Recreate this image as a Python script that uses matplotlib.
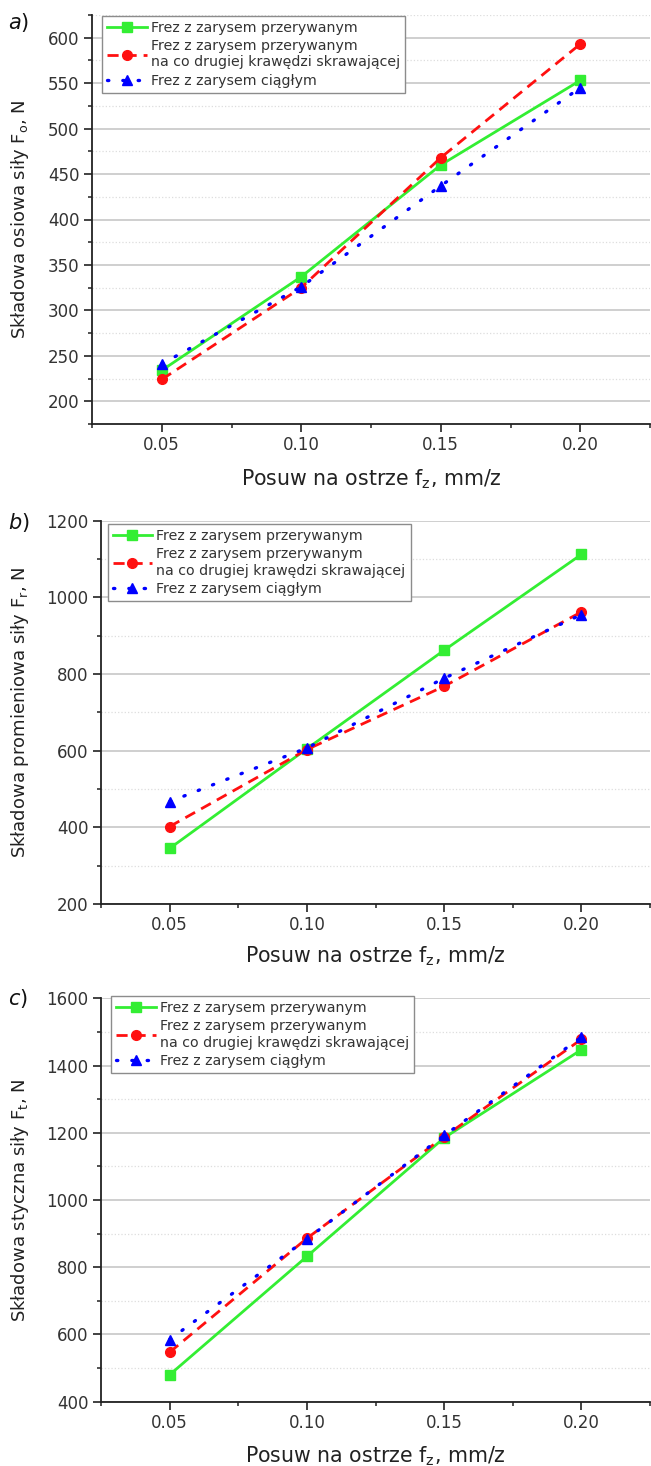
import matplotlib
matplotlib.use("Agg")
import matplotlib.pyplot as plt
from matplotlib.ticker import MultipleLocator, FormatStrFormatter

plt.rcParams["font.family"] = ["DejaVu Sans"]
plt.rcParams["mathtext.default"] = "regular"

# feed per tooth f_z, mm/z
feed = [0.05, 0.10, 0.15, 0.20]

# axial force component F_o, N
axial_interrupted = [234, 337, 460, 553]
axial_every_second = [224, 325, 468, 593]
axial_continuous = [241, 326, 437, 545]

# radial force component F_r, N
radial_interrupted = [345, 605, 862, 1112]
radial_every_second = [402, 603, 768, 962]
radial_continuous = [467, 607, 789, 955]

# tangential force component F_t, N
tangential_interrupted = [480, 832, 1185, 1447]
tangential_every_second = [547, 886, 1188, 1478]
tangential_continuous = [585, 884, 1192, 1484]

series_labels = [
	"Frez z zarysem przerywanym",
	"Frez z zarysem przerywanym\nna co drugiej krawędzi skrawającej",
	"Frez z zarysem ciągłym",
]
panel_letters = ["a", "b", "c"]
y_labels = [
	"Składowa osiowa siły F$_o$, N",
	"Składowa promieniowa siły F$_r$, N",
	"Składowa styczna siły F$_t$, N",
]
x_label = "Posuw na ostrze f$_z$, mm/z"

W, H = 651, 1466


def rect(left, top, bottom, right=650):
	return [left / W, 1 - bottom / H, (right - left) / W, (bottom - top) / H]


panels = [
	# data, axes box (px), ylim, major, minor, legend anchor, label y px
	([axial_interrupted, axial_every_second, axial_continuous],
	 rect(92, 15, 424), (175, 625), 50, 25, (0.018, 0.9976), 23),
	([radial_interrupted, radial_every_second, radial_continuous],
	 rect(101, 520.7, 904), (200, 1200), 200, 100, (0.012, 0.991), 522),
	([tangential_interrupted, tangential_every_second, tangential_continuous],
	 rect(101, 998.3, 1401.7), (400, 1600), 200, 100, (0.018, 1.005), 998),
]

styles = [
	dict(color="#33ee33", ls="-", lw=2, marker="s", ms=6.5),
	dict(color="#ff1010", ls=(0, (4, 2.5)), lw=2, marker="o", ms=7),
	dict(color="#0000ff", ls=(0, (0.4, 4.2)), lw=2.4, marker="^", ms=7.5, dash_capstyle="round"),
]

fig = plt.figure(figsize=(W / 100, H / 100), dpi=100)

for i, (series, box, ylim, major, minor, leg_anchor, letter_y) in enumerate(panels):
	ax = fig.add_axes(box)
	for values, label, st in zip(series, series_labels, styles):
		ax.plot(feed, values, label=label, **st)

	ax.set_xlim(0.025, 0.225)
	ax.set_ylim(*ylim)
	ax.xaxis.set_major_locator(MultipleLocator(0.05))
	ax.xaxis.set_minor_locator(MultipleLocator(0.025))
	ax.xaxis.set_major_formatter(FormatStrFormatter("%.2f"))
	ax.yaxis.set_major_locator(MultipleLocator(major))
	ax.yaxis.set_minor_locator(MultipleLocator(minor))

	ax.spines["top"].set_visible(False)
	ax.spines["right"].set_visible(False)
	for side in ["left", "bottom"]:
		ax.spines[side].set_linewidth(1.3)
		ax.spines[side].set_color("#222222")
	ax.tick_params(which="major", direction="out", length=6, width=1.2,
		labelsize=12, pad=3, colors="#222222", labelcolor="#333333")
	ax.tick_params(which="minor", direction="out", length=3, width=1.1, colors="#222222")

	ax.grid(which="major", axis="y", color="#cccccc", lw=1.3)
	ax.grid(which="minor", axis="y", color="#dddddd", lw=0.9, ls=":")
	ax.set_axisbelow(True)

	ax.set_ylabel(y_labels[i], fontsize=13, color="#222222")
	ax.yaxis.set_label_coords((31 - box[0] * W) / (box[2] * W), 0.5)
	ax.set_xlabel(x_label, fontsize=14.8, color="#222222")
	ax.xaxis.label.set_verticalalignment("center")
	ax.xaxis.set_label_coords(0.5, -0.135)

	leg = ax.legend(loc="upper left", bbox_to_anchor=leg_anchor, borderaxespad=0,
		fontsize=10.2, fancybox=False, framealpha=1, edgecolor="#8c8c8c",
		handlelength=2.8, handletextpad=0.3, borderpad=0.35, labelspacing=0.3,
		numpoints=1)
	leg.get_frame().set_linewidth(1.0)
	for t in leg.get_texts():
		t.set_color("#333333")

	fig.text(8 / W, 1 - letter_y / H, "$\\mathit{%s}$)" % panel_letters[i],
		fontsize=15, va="center", ha="left", color="#111111")

fig.savefig("out.png", dpi=100)
